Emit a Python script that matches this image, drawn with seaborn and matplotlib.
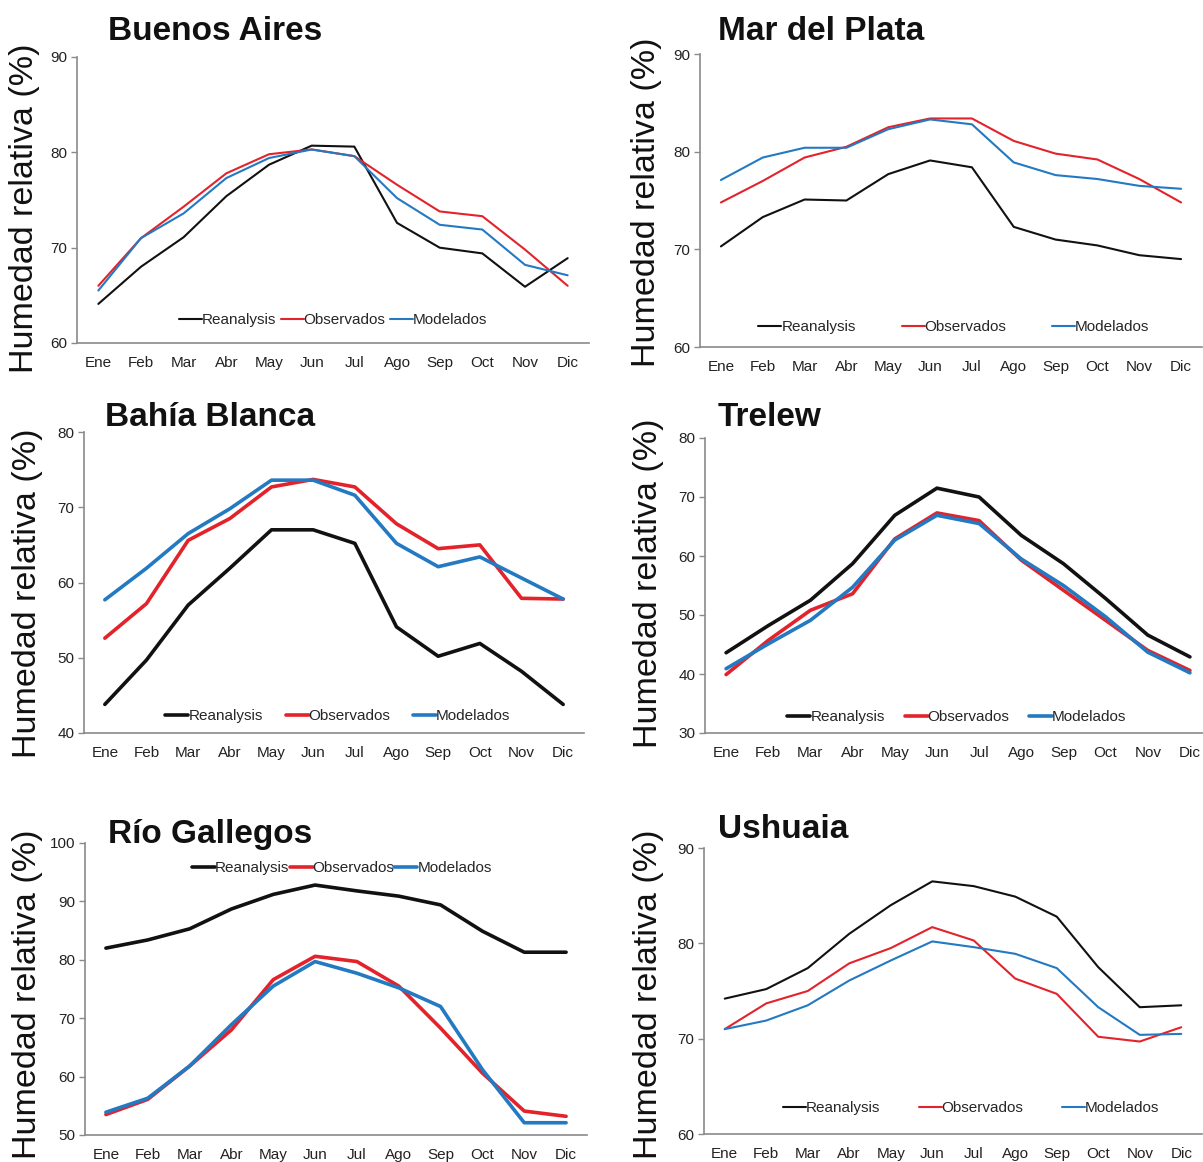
import pandas as pd
import matplotlib
matplotlib.use('Agg')
import matplotlib.pyplot as plt
import seaborn as sns

meses = ['Ene', 'Feb', 'Mar', 'Abr', 'May', 'Jun', 'Jul', 'Ago', 'Sep', 'Oct', 'Nov', 'Dic']
series = ['Reanalysis', 'Observados', 'Modelados']

# Buenos Aires
ba_rea = [64.1, 68.0, 71.1, 75.4, 78.7, 80.7, 80.6, 72.6, 70.0, 69.4, 65.9, 68.9]
ba_obs = [66.0, 71.0, 74.3, 77.8, 79.8, 80.3, 79.6, 76.6, 73.8, 73.3, 69.8, 66.0]
ba_mod = [65.5, 71.0, 73.6, 77.3, 79.4, 80.3, 79.6, 75.2, 72.4, 71.9, 68.2, 67.1]

# Mar del Plata
mdp_rea = [70.3, 73.3, 75.1, 75.0, 77.7, 79.1, 78.4, 72.3, 71.0, 70.4, 69.4, 69.0]
mdp_obs = [74.8, 77.0, 79.4, 80.5, 82.5, 83.4, 83.4, 81.1, 79.8, 79.2, 77.2, 74.8]
mdp_mod = [77.1, 79.4, 80.4, 80.4, 82.3, 83.3, 82.8, 78.9, 77.6, 77.2, 76.5, 76.2]

# Bahia Blanca
bb_rea = [43.8, 49.7, 57.0, 61.9, 67.0, 67.0, 65.2, 54.1, 50.2, 51.9, 48.2, 43.8]
bb_obs = [52.6, 57.2, 65.6, 68.5, 72.7, 73.7, 72.7, 67.8, 64.5, 65.0, 57.9, 57.8]
bb_mod = [57.7, 61.9, 66.5, 69.8, 73.6, 73.6, 71.6, 65.2, 62.1, 63.4, 60.6, 57.8]

# Trelew
tw_rea = [43.6, 48.2, 52.5, 58.7, 66.9, 71.5, 70.0, 63.5, 58.7, 52.8, 46.6, 42.9]
tw_obs = [39.9, 45.7, 50.8, 53.6, 62.9, 67.3, 66.0, 59.3, 54.2, 49.1, 44.0, 40.6]
tw_mod = [40.9, 45.1, 49.1, 54.7, 62.7, 66.9, 65.5, 59.5, 55.0, 49.7, 43.7, 40.2]

# Rio Gallegos
rg_rea = [82.0, 83.4, 85.3, 88.7, 91.2, 92.8, 91.8, 90.9, 89.4, 84.9, 81.3, 81.3]
rg_obs = [53.5, 56.1, 61.8, 68.0, 76.6, 80.6, 79.7, 75.5, 68.3, 60.6, 54.1, 53.2]
rg_mod = [53.9, 56.3, 61.8, 68.9, 75.5, 79.7, 77.7, 75.2, 72.0, 61.2, 52.1, 52.1]

# Ushuaia
us_rea = [74.2, 75.2, 77.4, 81.0, 84.0, 86.5, 86.0, 84.9, 82.8, 77.5, 73.3, 73.5]
us_obs = [71.0, 73.7, 75.0, 77.9, 79.5, 81.7, 80.3, 76.3, 74.7, 70.2, 69.7, 71.2]
us_mod = [71.0, 71.9, 73.5, 76.1, 78.2, 80.2, 79.6, 78.9, 77.4, 73.3, 70.4, 70.5]

colores = {'Reanalysis': '#111111', 'Observados': '#e3232b', 'Modelados': '#2379c2'}

W, H = 1203, 1162

# (titulo, datos, ylim, paso, caja en pixeles x0,x1,ytop,ybot, grosor, titulo xy, ylabel xy, leyenda xy, colspacing)
paneles = [
    ('Buenos Aires', (ba_rea, ba_obs, ba_mod), (60, 90), 10, (77, 589, 57, 343), 1.5,
     (108, 32), (25, 208), (333, 320), 0.3),
    ('Mar del Plata', (mdp_rea, mdp_obs, mdp_mod), (60, 90), 10, (700, 1202, 54, 347), 1.5,
     (718, 32), (646, 202), (954, 327), 3.0),
    ('Bahía Blanca', (bb_rea, bb_obs, bb_mod), (40, 80), 10, (84, 584, 432, 733), 2.6,
     (105, 418), (28, 593), (338, 716), 1.5),
    ('Trelew', (tw_rea, tw_obs, tw_mod), (30, 80), 10, (705, 1211, 438, 733), 2.6,
     (718, 418), (648, 583), (957, 717), 1.3),
    ('Río Gallegos', (rg_rea, rg_obs, rg_mod), (50, 100), 10, (85, 587, 843, 1135), 2.6,
     (108, 835), (28, 994), (342, 868), 0.0),
    ('Ushuaia', (us_rea, us_obs, us_mod), (60, 90), 10, (704, 1202, 848, 1134), 1.5,
     (718, 830), (648, 994), (971, 1108), 2.5),
]

sns.set_style('white')
plt.rcParams['font.family'] = ['Liberation Sans', 'DejaVu Sans']

fig = plt.figure(figsize=(W / 100, H / 100), dpi=100)

for titulo, datos, ylim, paso, caja, lw, txy, lxy, legxy, colsp in paneles:
    x0, x1, yt, yb = caja
    ax = fig.add_axes([x0 / W, 1 - yb / H, (x1 - x0) / W, (yb - yt) / H])
    df = pd.DataFrame({
        'mes': meses * 3,
        'hr': list(datos[0]) + list(datos[1]) + list(datos[2]),
        'serie': [s for s in series for _ in meses],
    })
    sns.lineplot(data=df, x='mes', y='hr', hue='serie', hue_order=series,
                 palette=colores, sort=False, estimator=None, linewidth=lw,
                 legend=False, ax=ax)
    ax.set_xlim(-0.5, 11.5)
    ax.set_ylim(*ylim)
    ax.set_yticks(range(ylim[0], ylim[1] + 1, paso))
    ax.set_xticks([i - 0.5 for i in range(13)])
    ax.set_xticklabels([])
    ax.set_xticks(range(12), minor=True)
    ax.set_xticklabels(meses, minor=True, va='baseline')
    ax.tick_params(axis='x', which='major', length=4, width=1, color='#8a8a8a', direction='out')
    ax.tick_params(axis='x', which='minor', length=0, pad=17, labelsize=11, labelcolor='#222222')
    ax.tick_params(axis='y', length=4, width=1, color='#8a8a8a', pad=3, labelsize=11,
                   labelcolor='#222222', left=True)
    for lado in ['top', 'right']:
        ax.spines[lado].set_visible(False)
    for lado in ['left', 'bottom']:
        ax.spines[lado].set_color('#8a8a8a')
        ax.spines[lado].set_linewidth(1.2)
    ax.set_xlabel('')
    ax.set_ylabel('')
    ax.patch.set_alpha(0)

    handles = ax.get_lines()[:3]
    ax.legend(handles, series, loc='center', frameon=False, fontsize=11,
              bbox_to_anchor=(legxy[0] / W, 1 - legxy[1] / H), bbox_transform=fig.transFigure,
              ncol=3, handlelength=1.5, handletextpad=0.0, columnspacing=colsp,
              borderpad=0, borderaxespad=0)

    fig.text(txy[0] / W, 1 - txy[1] / H, titulo, fontsize=24, fontweight='bold',
             ha='left', va='center', color='#111111')
    fig.text(lxy[0] / W, 1 - lxy[1] / H, 'Humedad relativa (%)', fontsize=24.5,
             rotation=90, ha='center', va='center', color='#111111')

fig.savefig('out.png', dpi=100)
